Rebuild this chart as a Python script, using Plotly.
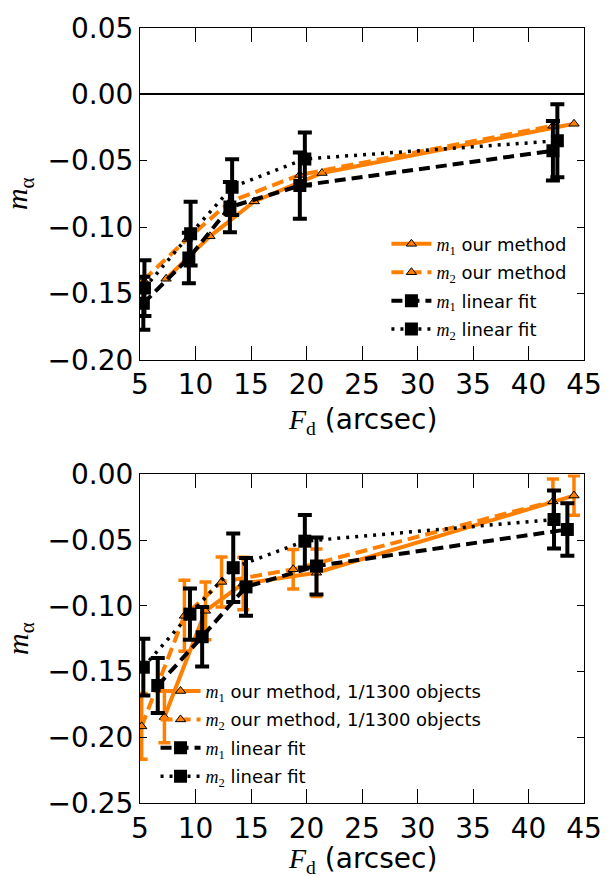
import plotly.graph_objects as go

# ---------------- data: upper panel ----------------
top_m1_our_x = [7.35, 11.3, 15.3, 21.4, 44.1]
top_m1_our_y = [-0.139, -0.107, -0.0807, -0.0593, -0.0222]
top_m2_our_x = [5.3, 9.26, 13.1, 19.4, 42.2]
top_m2_our_y = [-0.140, -0.109, -0.081, -0.0607, -0.0237]

top_m1_fit_x = [5.3, 9.4, 13.1, 19.4, 42.2]
top_m1_fit_y = [-0.1575, -0.1233, -0.085, -0.0688, -0.0425]
top_m1_fit_err = [0.020, 0.019, 0.019, 0.025, 0.0225]
top_m2_fit_x = [5.4, 9.56, 13.3, 19.85, 42.6]
top_m2_fit_y = [-0.146, -0.105, -0.070, -0.0487, -0.035]
top_m2_fit_err = [0.021, 0.024, 0.021, 0.020, 0.0275]

# ---------------- data: lower panel ----------------
bot_m1_our_x = [7.2, 10.9, 14.3, 20.9, 44.1]
bot_m1_our_y = [-0.1846, -0.1038, -0.083, -0.0748, -0.0161]
bot_m1_our_err = [0.0196, 0.022, 0.020, 0.018, 0.015]
bot_m2_our_x = [5.15, 9.0, 12.35, 18.8, 42.2]
bot_m2_our_y = [-0.1917, -0.1076, -0.0818, -0.0722, -0.0205]
bot_m2_our_err = [0.025, 0.027, 0.019, 0.015, 0.017]

bot_m1_fit_x = [6.6, 10.6, 14.55, 20.9, 43.5]
bot_m1_fit_y = [-0.1606, -0.1235, -0.0856, -0.0697, -0.0419]
bot_m1_fit_err = [0.021, 0.0227, 0.022, 0.0216, 0.020]
bot_m2_fit_x = [5.3, 9.5, 13.4, 19.85, 42.3]
bot_m2_fit_y = [-0.1467, -0.1063, -0.071, -0.0508, -0.0343]
bot_m2_fit_err = [0.0216, 0.0195, 0.026, 0.020, 0.022]

x_ticks = [5, 10, 15, 20, 25, 30, 35, 40, 45]

ORANGE = "#ff8000"
BLACK = "#000000"
SANS = "DejaVu Sans"
SERIF = "Liberation Serif"


def m_label(i, rest):
    return (f"<span style=\"font-family:'{SERIF}'\"><i>m</i><sub>{i}</sub></span> {rest}")


fig = go.Figure()


def add_our(x, y, err, name, dash, xa, ya, legend, group):
    kw = {}
    if err is not None:
        kw["error_y"] = dict(type="data", array=err, visible=True, color=ORANGE,
                             thickness=3.5, width=6)
    fig.add_trace(go.Scatter(
        x=x, y=y, mode="lines+markers", name=name,
        line=dict(color=ORANGE, width=4, dash=dash),
        marker=dict(symbol="triangle-up", size=9, color=ORANGE,
                    line=dict(color=BLACK, width=1)),
        xaxis=xa, yaxis=ya, legend=legend, legendgroup=group, **kw))


def add_fit(x, y, err, name, dash, xa, ya, legend, group):
    fig.add_trace(go.Scatter(
        x=x, y=y, mode="lines+markers", name=name,
        line=dict(color=BLACK, width=4 if dash != "3px,6px" else 3.5, dash=dash),
        marker=dict(symbol="square", size=13, color=BLACK),
        error_y=dict(type="data", array=err, visible=True, color=BLACK,
                     thickness=4, width=7),
        xaxis=xa, yaxis=ya, legend=legend, legendgroup=group))


# upper panel
add_our(top_m1_our_x, top_m1_our_y, None, m_label(1, "our method"), "solid", "x", "y", "legend", "a1")
add_our(top_m2_our_x, top_m2_our_y, None, m_label(2, "our method"), "12px,6px", "x", "y", "legend", "a2")
add_fit(top_m1_fit_x, top_m1_fit_y, top_m1_fit_err, m_label(1, "linear fit"), "11px,6px", "x", "y", "legend", "a3")
add_fit(top_m2_fit_x, top_m2_fit_y, top_m2_fit_err, m_label(2, "linear fit"), "3px,6px", "x", "y", "legend", "a4")

# lower panel
add_our(bot_m1_our_x, bot_m1_our_y, bot_m1_our_err, m_label(1, "our method, 1/1300 objects"), "solid", "x2", "y2", "legend2", "b1")
add_our(bot_m2_our_x, bot_m2_our_y, bot_m2_our_err, m_label(2, "our method, 1/1300 objects"), "12px,6px", "x2", "y2", "legend2", "b2")
add_fit(bot_m1_fit_x, bot_m1_fit_y, bot_m1_fit_err, m_label(1, "linear fit"), "11px,6px", "x2", "y2", "legend2", "b3")
add_fit(bot_m2_fit_x, bot_m2_fit_y, bot_m2_fit_err, m_label(2, "linear fit"), "3px,6px", "x2", "y2", "legend2", "b4")

axis_common = dict(showline=True, linecolor=BLACK, linewidth=1, mirror="ticks",
                   ticks="inside", tickcolor=BLACK, tickwidth=1, showgrid=False,
                   tickfont=dict(family=SANS, size=28, color=BLACK))

legend_common = dict(xanchor="left", yanchor="top", bgcolor="rgba(0,0,0,0)",
                     borderwidth=0, tracegroupgap=2, itemwidth=40,
                     traceorder="grouped", font=dict(family=SANS, size=18, color=BLACK))

fig.update_layout(
    width=614, height=877,
    margin=dict(l=140, r=21, t=25, b=74),
    paper_bgcolor="white", plot_bgcolor="white",
    showlegend=True,
    xaxis=dict(domain=[0, 1], range=[5, 45], tickvals=x_ticks, ticklen=14,
               anchor="y", zeroline=False, **axis_common),
    yaxis=dict(domain=[0.572, 1], range=[-0.2, 0.05], dtick=0.05, tickformat=".2f",
               ticklen=7, anchor="x", zeroline=True, zerolinecolor=BLACK,
               zerolinewidth=1.5, **axis_common),
    xaxis2=dict(domain=[0, 1], range=[5, 45], tickvals=x_ticks, ticklen=14,
                anchor="y2", zeroline=False, **axis_common),
    yaxis2=dict(domain=[0, 0.424], range=[-0.25, 0.0], dtick=0.05, tickformat=".2f",
                ticklen=7, anchor="x2", zeroline=False, **axis_common),
    legend=dict(x=0.555, y=0.745, **legend_common),
    legend2=dict(x=0.035, y=0.168, **legend_common),
)

# axis titles
xtitle = f"<span style=\"font-family:'{SERIF}'\"><i>F</i><sub>d</sub></span> (arcsec)"
ytitle = f"<span style=\"font-family:'{SERIF}'\"><i>m</i><sub>α</sub></span>"
for ypos in (0.4923, -0.0735):
    fig.add_annotation(text=xtitle, xref="paper", yref="paper", x=0.5, y=ypos,
                       xanchor="center", yanchor="middle", showarrow=False,
                       font=dict(family=SANS, size=28, color=BLACK))
for ypos in ((0.572 + 1) / 2, 0.424 / 2):
    fig.add_annotation(text=ytitle, xref="paper", yref="paper", x=-0.272, y=ypos,
                       xanchor="center", yanchor="middle", showarrow=False,
                       textangle=-90, font=dict(family=SANS, size=30, color=BLACK))

fig.write_html("out.html")
